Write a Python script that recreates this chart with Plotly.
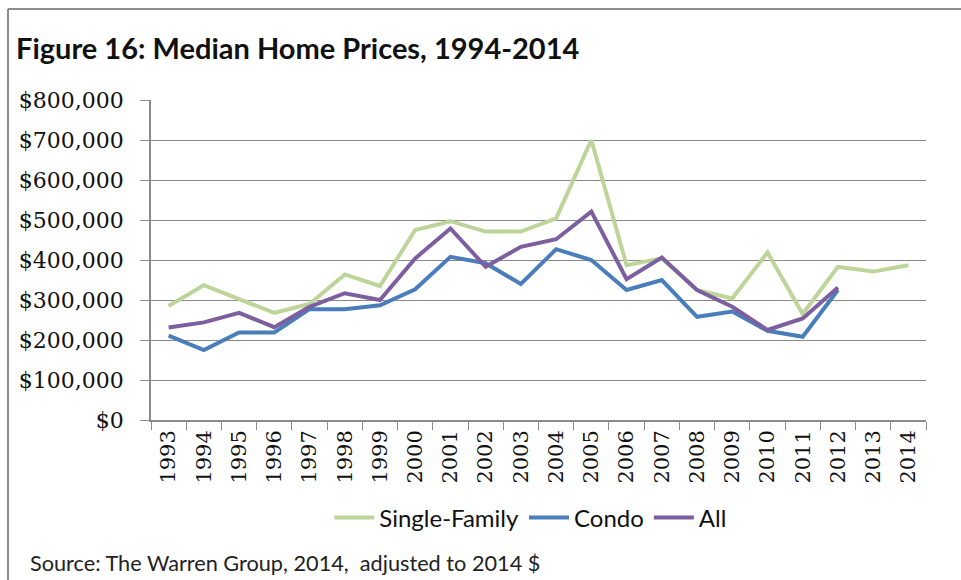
import plotly.graph_objects as go

years = [str(y) for y in range(1993, 2015)]

single_family = [285000, 337000, 302000, 268000, 290000, 364000, 335000, 475000, 497000,
                 471000, 471000, 504000, 700000, 387000, 404000, 325000, 304000, 419000,
                 265000, 383000, 371000, 387000]
condo = [211000, 175000, 219000, 219000, 277000, 277000, 287000, 327000, 408000, 392000,
         340000, 427000, 400000, 325000, 350000, 258000, 271000, 223000, 208000, 325000,
         None, None]
all_homes = [231000, 244000, 268000, 232000, 283000, 317000, 300000, 404000, 479000, 383000,
             433000, 452000, 521000, 352000, 406000, 325000, 283000, 225000, 254000, 331000,
             None, None]

y_ticks = [0, 100000, 200000, 300000, 400000, 500000, 600000, 700000, 800000]
y_tick_labels = ["$%s" % format(v, ",") for v in y_ticks]

label_text = "$%s" % format(single_family[-1], ",")

GREEN = "#BED59A"
BLUE = "#4A7EBB"
PURPLE = "#7D5FA0"
GRID = "#8A8A8A"
SERIF = "DejaVu Serif"
SANS = "Lato"

fig = go.Figure()
fig.add_trace(go.Scatter(x=years, y=single_family, name="Single-Family", mode="lines",
                         line=dict(color=GREEN, width=4), connectgaps=False))
fig.add_trace(go.Scatter(x=years, y=condo, name="Condo", mode="lines",
                         line=dict(color=BLUE, width=4), connectgaps=False))
fig.add_trace(go.Scatter(x=years, y=all_homes, name="All", mode="lines",
                         line=dict(color=PURPLE, width=4), connectgaps=False))

fig.update_layout(
    width=961, height=580,
    margin=dict(l=151, r=35, t=100, b=160),
    paper_bgcolor="white", plot_bgcolor="white",
    showlegend=True,
    legend=dict(orientation="h", x=0.49, xanchor="center", y=-0.306, yanchor="middle",
                font=dict(family=SANS, size=24, color="#111111"),
                bgcolor="rgba(0,0,0,0)", itemwidth=40, tracegroupgap=0),
    annotations=[
        dict(text="<b>Figure 16: Median Home Prices, 1994-2014</b>", xref="paper", yref="paper",
             x=(14 - 151) / 775, y=(420 - 48) / 320, xanchor="left", yanchor="middle",
             showarrow=False, font=dict(family=SANS, size=29, color="#111111")),
        dict(text="Source: The Warren Group, 2014,  adjusted to 2014 $", xref="paper", yref="paper",
             x=(28 - 151) / 775, y=(420 - 563) / 320, xanchor="left", yanchor="middle",
             showarrow=False, font=dict(family=SANS, size=21.7, color="#222222")),
        dict(text=label_text, x=years[19], y=all_homes[19], xref="x", yref="y",
             xanchor="left", yanchor="middle", xshift=4, yshift=-8, showarrow=False,
             font=dict(family=SERIF, size=22, color="#111111")),
    ],
    shapes=[
        dict(type="line", xref="paper", yref="paper",
             x0=(8 - 151) / 775, x1=1.2, y0=(420 - 9) / 320, y1=(420 - 9) / 320,
             line=dict(color="#8C8C8C", width=2)),
        dict(type="line", xref="paper", yref="paper",
             x0=(8 - 151) / 775, x1=(8 - 151) / 775, y0=(420 - 9) / 320, y1=-0.7,
             line=dict(color="#8C8C8C", width=2)),
    ],
)

fig.update_xaxes(
    type="category", tickangle=-90, showgrid=False, showline=True,
    linecolor=GRID, linewidth=1.5, ticks="outside", ticklen=8, tickcolor=GRID,
    tickson="boundaries", tickfont=dict(family=SERIF, size=21, color="#111111"),
    range=[-0.5, len(years) - 0.5],
)
fig.update_yaxes(
    range=[0, 800000], tickvals=y_ticks, ticktext=y_tick_labels,
    showgrid=True, gridcolor=GRID, gridwidth=1.2, zeroline=False,
    showline=True, linecolor=GRID, linewidth=1.5, ticks="outside", ticklen=9, tickcolor=GRID,
    ticklabelstandoff=12, tickfont=dict(family=SERIF, size=22, color="#111111"),
)

fig.write_html("out.html", config={"displayModeBar": False},
               post_script="document.body.style.margin='0';document.body.style.padding='0';")
